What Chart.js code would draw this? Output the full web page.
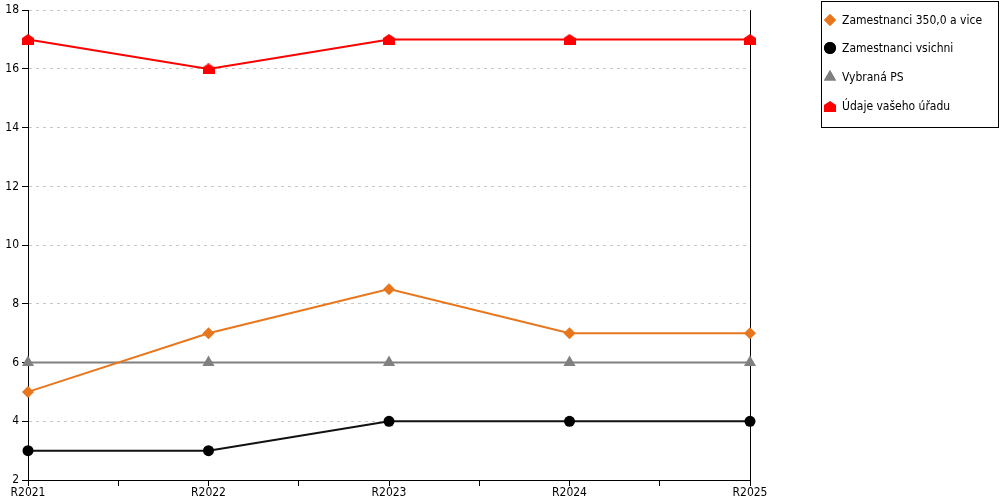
<!DOCTYPE html>
<html>
<head>
<meta charset="utf-8">
<script src="https://cdn.jsdelivr.net/npm/chart.js@4"></script>
<style>
html,body{margin:0;padding:0;background:#fff;}
#wrap{position:relative;width:1000px;height:500px;}
</style>
</head>
<body>
<div id="wrap"><canvas id="c" width="1000" height="500"></canvas></div>
<script>
const categories = ['R2021', 'R2022', 'R2023', 'R2024', 'R2025'];
const seriesNames = ['Zamestnanci 350,0 a vice', 'Zamestnanci vsichni', 'Vybraná PS', 'Údaje vašeho úřadu'];
const orangeValues = [5, 7, 8.5, 7, 7];
const blackValues = [3, 3, 4, 4, 4];
const grayValues = [6, 6, 6, 6, 6];
const redValues = [17, 16, 17, 17, 17];
const yTicks = [2, 4, 6, 8, 10, 12, 14, 16, 18];

const FONT = '"DejaVu Sans Condensed", "DejaVu Sans", sans-serif';

function houseImage(color) {
  const c = document.createElement('canvas');
  c.width = 12; c.height = 11;
  const g = c.getContext('2d');
  g.fillStyle = color;
  g.beginPath();
  g.moveTo(6, 0);
  g.lineTo(12, 4);
  g.lineTo(12, 11);
  g.lineTo(0, 11);
  g.lineTo(0, 4);
  g.closePath();
  g.fill();
  return c;
}
const house = houseImage('#ff0000');

const toPts = vals => vals.map((v, i) => ({x: i, y: v}));

const datasets = [
  {label: seriesNames[0], data: toPts(orangeValues), borderColor: '#e8761c', backgroundColor: '#e8761c', pointStyle: 'rectRot', pointRadius: 6, pointHoverRadius: 6, borderWidth: 2},
  {label: seriesNames[1], data: toPts(blackValues), borderColor: '#111111', backgroundColor: '#000000', pointStyle: 'circle', pointRadius: 5.5, pointHoverRadius: 5.5, borderWidth: 2},
  {label: seriesNames[2], data: toPts(grayValues), borderColor: '#808080', backgroundColor: '#808080', pointStyle: 'triangle', pointRadius: 7, pointHoverRadius: 7, borderWidth: 2},
  {label: seriesNames[3], data: toPts(redValues), borderColor: '#ff0000', backgroundColor: '#ff0000', pointStyle: house, pointRadius: 6, pointHoverRadius: 6, borderWidth: 2}
];
datasets.forEach(d => { d.fill = false; d.tension = 0; d.clip = false; d.pointBorderWidth = 0; d.pointBorderColor = d.backgroundColor; });

const frame = {
  id: 'frame',
  beforeDatasetsDraw(chart) {
    const {ctx, chartArea: a} = chart;
    ctx.save();
    ctx.strokeStyle = '#000';
    ctx.lineWidth = 1;
    ctx.beginPath();
    ctx.moveTo(Math.round(a.right) + 0.5, a.top);
    ctx.lineTo(Math.round(a.right) + 0.5, a.bottom);
    ctx.stroke();
    ctx.restore();
  },
  afterDraw(chart) {
    const ctx = chart.ctx;
    ctx.save();
    ctx.strokeStyle = '#000';
    ctx.lineWidth = 1;
    ctx.strokeRect(821.5, 1.5, 177, 126);
    ctx.font = '12px ' + FONT;
    ctx.textBaseline = 'middle';
    ctx.fillStyle = '#000';
    const ys = [20, 48, 77, 106];
    chart.data.datasets.forEach((ds, i) => {
      const y = ys[i];
      const x = 830;
      ctx.fillStyle = ds.backgroundColor;
      const ps = ds.pointStyle;
      if (typeof ps === 'string') {
        const r = ps === 'triangle' ? 7 : 6;
        Chart.helpers.drawPoint(ctx, {pointStyle: ps, radius: r, borderWidth: 0, rotation: 0}, x, y);
        ctx.fill();
      } else {
        ctx.drawImage(ps, x - 6, y - 5);
      }
      ctx.fillStyle = '#000';
      ctx.fillText(ds.label, 842, y + 1);
    });
    ctx.restore();
  }
};

new Chart(document.getElementById('c'), {
  type: 'line',
  data: {datasets},
  options: {
    responsive: false,
    animation: false,
    devicePixelRatio: 1,
    layout: {padding: {top: 10, right: 250, left: 0, bottom: 0}},
    plugins: {legend: {display: false}, tooltip: {enabled: false}},
    scales: {
      x: {
        type: 'linear', min: 0, max: categories.length - 1,
        afterBuildTicks: s => { s.ticks = []; for (let v = 0; v <= categories.length - 1; v += 0.5) s.ticks.push({value: v}); },
        afterFit: s => { s.height = 20; },
        ticks: {
          autoSkip: false, maxRotation: 0, color: '#000', padding: 0,
          font: {family: FONT, size: 12},
          callback: v => Number.isInteger(v) ? categories[v] : ''
        },
        grid: {drawOnChartArea: false, drawTicks: true, tickLength: 6, tickColor: '#000', tickWidth: 1},
        border: {display: true, color: '#000', width: 1}
      },
      y: {
        min: yTicks[0], max: yTicks[yTicks.length - 1],
        afterBuildTicks: s => { s.ticks = yTicks.map(v => ({value: v})); },
        afterFit: s => { s.width = 28; },
        ticks: {color: '#000', padding: 3, font: {family: FONT, size: 12}},
        grid: {color: '#c8c8c8', lineWidth: 1, drawTicks: true, tickLength: 6, tickColor: '#000', tickWidth: 1},
        border: {display: true, color: '#000', width: 1, dash: [3, 4]}
      }
    }
  },
  plugins: [frame]
});
</script>
</body>
</html>
